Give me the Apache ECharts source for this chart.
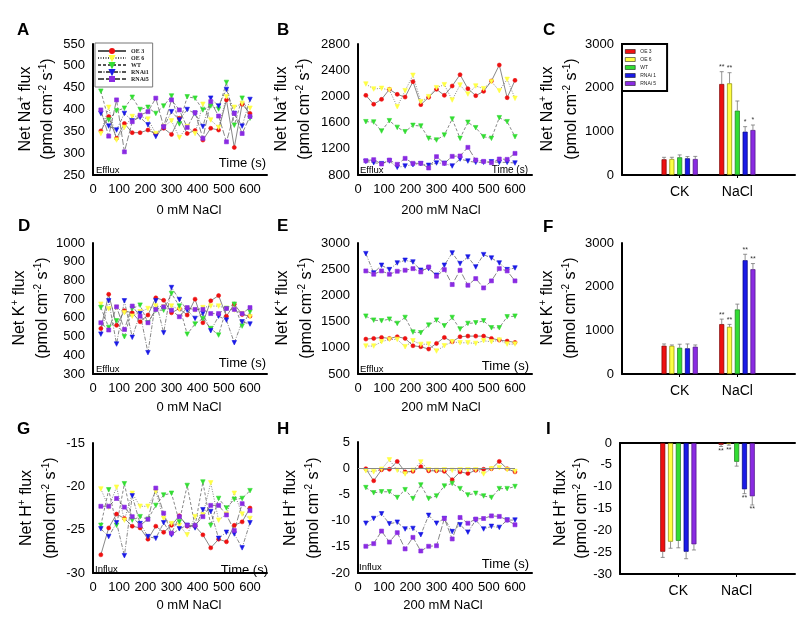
<!DOCTYPE html>
<html><head><meta charset="utf-8">
<script src="https://cdn.jsdelivr.net/npm/echarts@6/dist/echarts.min.js"></script>
<style>html,body{margin:0;padding:0;background:#fff}#c{width:809px;height:624px}</style>
</head><body><div id="c"></div>
<script>
// ---------- DATA ----------
const timePoints = [30,60,90,120,150,180,210,240,270,300,330,360,390,420,450,480,510,540,570,600];
const lineNames = ['OE 3','OE 6','WT','RNAi1','RNAi5'];
const barNames = ['OE 3','OE 6','WT','RNAi 1','RNAi 5'];
const barCategories = ['', 'CK', 'NaCl', ''];

// A: Net Na+ flux, 0 mM NaCl
const a_OE3 = [351,384,334,368,347,347,353,344,357,343,380,345,352,330,357,353,422,313,412,391];
const a_OE6 = [345,405,330,359,384,385,378,345,361,374,336,361,345,412,376,359,429,405,414,403];
const a_WT = [442,376,397,403,428,400,405,391,408,431,367,429,426,399,408,401,462,364,426,380];
const a_RNAi1 = [391,362,353,391,374,382,365,338,359,395,376,400,391,361,426,408,446,391,362,423];
const a_RNAi5 = [399,339,422,303,372,387,395,426,361,422,399,359,393,334,418,385,326,391,345,384];
// B: Net Na+ flux, 200 mM NaCl
const b_OE3 = [2016,1880,1955,2108,2031,1990,2225,1874,1986,2108,2016,2159,2332,2118,2011,2077,2235,2479,1980,2245];
const b_OE6 = [2189,2113,2123,2098,1843,2087,2322,1919,1996,2133,2179,1945,2174,2036,2159,2118,2225,2087,2260,1970];
const b_WT = [1614,1609,1471,1629,1527,1461,1558,1548,1360,1334,1410,1655,1360,1604,1522,1385,1360,1675,1614,1385];
const b_RNAi1 = [1008,988,973,1013,917,937,957,973,947,983,978,937,1044,1013,993,993,1003,993,993,983];
const b_RNAi5 = [1018,1034,968,1029,963,1054,978,978,907,1080,978,1085,1090,1222,1029,1008,988,1044,1039,1130];
// C: mean Na+ flux bars
const c_CK_mean = [360,366,405,382,366];
const c_CK_err = [45,40,55,40,60];
const c_NaCl_mean = [2084,2099,1473,992,1030];
const c_NaCl_err = [282,244,222,115,115];
const c_NaCl_sig = ['**','**','','*','*'];
// D: Net K+ flux, 0 mM NaCl
const d_OE3 = [543,726,560,638,627,579,615,707,694,627,650,615,700,574,691,719,609,673,618,609];
const d_OE6 = [673,648,655,627,609,632,650,663,659,663,645,650,641,655,663,663,650,641,623,606];
const d_WT = [655,549,584,499,650,668,574,641,641,730,663,513,567,597,543,508,650,673,556,632];
const d_RNAi1 = [513,691,460,691,496,623,414,691,520,762,698,641,597,623,531,609,588,467,579,567];
const d_RNAi5 = [574,535,659,538,663,609,574,645,659,641,606,655,645,645,623,623,650,645,623,655];
// E: Net K+ flux, 200 mM NaCl
const e_OE3 = [1166,1179,1198,1179,1211,1179,1039,1020,976,1084,1198,1115,1211,1223,1223,1223,1179,1147,1128,1103];
const e_OE6 = [1033,1033,1115,1160,1160,1020,1135,1065,1071,938,1039,1115,1096,1096,1084,1135,1115,1147,1071,1071];
const e_WT = [1604,1528,1515,1547,1465,1579,1300,1287,1433,1528,1420,1579,1357,1465,1477,1515,1382,1382,1591,1604];
const e_RNAi1 = [2797,2429,2575,2492,2619,2670,2638,2480,2511,2385,2575,2810,2607,2734,2543,2778,2714,2619,2492,2524];
const e_RNAi5 = [2467,2404,2467,2404,2461,2480,2511,2448,2543,2366,2492,2207,2480,2194,2321,2143,2277,2511,2467,2277];
// F: mean K+ flux bars
const f_CK_mean = [648,645,602,588,625];
const f_CK_err = [40,20,80,100,40];
const f_NaCl_mean = [1142,1081,1478,2605,2399];
const f_NaCl_err = [115,55,122,137,130];
const f_NaCl_sig = ['**','**','','**','**'];
// G: Net H+ flux, 0 mM NaCl
const g_OE3 = [-27.9,-24.8,-23.2,-23.7,-24.6,-24.8,-26.1,-24.6,-25.3,-24.5,-23.4,-24.6,-24.6,-25.6,-27.1,-26.1,-26.4,-24.5,-24.1,-22.5];
const g_OE6 = [-20.3,-22.4,-20.1,-23.9,-20.8,-22.3,-22.3,-20.6,-23.7,-24.3,-24.5,-25.6,-23.5,-23.3,-19.6,-23.9,-23.2,-20.8,-23.2,-23.7];
const g_WT = [-24.5,-20.4,-24.5,-19.7,-23.9,-23.5,-23.8,-22.2,-21.0,-20.8,-24.1,-19.9,-24.6,-19.5,-24.5,-21.4,-22.5,-21.5,-21.4,-20.5];
const g_RNAi1 = [-24.9,-25.8,-24.2,-28.0,-21.1,-24.3,-25.8,-26.0,-24.2,-25.6,-24.9,-24.5,-24.8,-22.7,-22.9,-26.0,-25.3,-25.5,-27.1,-24.2];
const g_RNAi5 = [-22.3,-22.3,-21.4,-22.4,-23.5,-24.5,-23.8,-20.2,-23.1,-25.4,-23.5,-24.5,-24.5,-23.5,-22.2,-22.2,-23.3,-25.1,-22.0,-22.8];
// H: Net H+ flux, 200 mM NaCl
const h_OE3 = [-0.1,-2.4,-0.3,-0.2,1.3,-0.7,-0.6,0.3,-0.5,-0.5,-0.6,-2.2,-0.7,-1.0,-0.4,-0.2,-0.1,1.3,-0.1,-0.7];
const h_OE6 = [-0.5,-0.7,-0.2,1.6,-0.4,-1.1,-0.4,1.2,-0.3,-0.4,-0.3,-0.4,-0.3,-0.3,-0.3,-1.1,-0.1,0.1,-0.3,-0.6];
const h_WT = [-3.7,-4.7,-4.5,-4.5,-5.6,-4.1,-5.8,-3.2,-5.8,-5.3,-3.4,-2.9,-3.9,-5.1,-4.8,-5.3,-5.6,-3.9,-3.9,-3.5];
const h_RNAi1 = [-10.5,-9.6,-8.7,-10.6,-10.3,-11.6,-11.5,-12.7,-9.0,-10.5,-9.6,-12.1,-10.8,-12.2,-9.9,-11.6,-11.1,-11.3,-9.9,-9.9];
const h_RNAi5 = [-14.9,-14.4,-12.0,-14.1,-12.3,-15.4,-13.2,-15.8,-14.9,-14.8,-9.6,-13.5,-9.4,-10.5,-9.7,-9.6,-9.1,-9.2,-9.9,-10.8];
const h_zeroLine = [0, 600];
// I: mean H+ flux bars
const i_CK_mean = [-24.9,-22.6,-22.4,-24.9,-23.2];
const i_CK_err = [1.3,1.5,1.6,1.6,1.3];
const i_NaCl_mean = [-0.4,-0.2,-4.3,-10.6,-12.2];
const i_NaCl_err = [0.4,0.3,1.0,1.0,2.0];
const i_NaCl_sig = ['**','**','','**','**'];

// y-axis ticks per panel [min, max, interval]
const yTicksA = [250,550,50], yTicksB = [800,2800,400], yTicksC = [0,3000,1000];
const yTicksD = [300,1000,100], yTicksE = [500,3000,500], yTicksF = [0,3000,1000];
const yTicksG = [-30,-15,5], yTicksH = [-20,5,5], yTicksI = [-30,0,5];
const xTimeTicks = [0,665,100];

// ---------- STYLE / LAYOUT ----------
const FONT = 'Liberation Sans';
const colors = ['#ee1111','#ffff44','#33dd33','#1a1ae6','#8a2be2'];
const barBorders = ['#7a0000','#8a8a00','#1a7a1a','#00007a','#4a1280'];
const symbols = ['circle','triangle','triangle','triangle','rect'];
const symRot = [0,180,180,180,0];
const symSize = [4,4.5,4.5,4.5,4];
const dashes = ['solid',[1,1.5],[3,2],[4,1.5,1,1.5],[6,2]];
const BAR_W = 5, BAR_GAP = 0.56, PITCH = BAR_W*(1+BAR_GAP);

const grids = [
  {left:93, top:44, width:174, height:131},
  {left:358, top:44, width:174, height:131},
  {left:622, top:44, width:173, height:131},
  {left:93, top:243, width:174, height:131},
  {left:358, top:243, width:174, height:131},
  {left:622, top:243, width:173, height:131},
  {left:93, top:443, width:174, height:130},
  {left:358, top:442, width:174, height:131},
  {left:620, top:443, width:175, height:131}
];
const axisLine = {show:true, onZero:false, lineStyle:{color:'#000', width:2}};
const lbl = {color:'#000', fontSize:13, fontFamily:FONT};

const yT = [yTicksA,yTicksB,yTicksC,yTicksD,yTicksE,yTicksF,yTicksG,yTicksH,yTicksI];
const yAxes = yT.map((t,i)=>({type:'value', gridIndex:i, min:t[0], max:t[1], interval:t[2],
  axisLine:axisLine, axisTick:{show:false}, splitLine:{show:false},
  axisLabel:Object.assign({margin:8, formatter:v=>String(v)}, lbl)}));

const barPanels = [2,5,8];
const xAxes = grids.map((g,i)=>{
  if (barPanels.includes(i)) {
    return {type:'category', gridIndex:i, data:barCategories, boundaryGap:false,
      axisLine:axisLine, splitLine:{show:false},
      axisTick:{show:true, length:3, interval:(idx,v)=>v!=='', lineStyle:{color:'#000', width:1}},
      axisLabel:Object.assign({margin:10, interval:0}, lbl, {fontSize:14})};
  }
  return {type:'value', gridIndex:i, min:xTimeTicks[0], max:xTimeTicks[1], interval:xTimeTicks[2],
    axisLine:axisLine, axisTick:{show:false}, splitLine:{show:false},
    axisLabel:Object.assign({margin:8, showMaxLabel:false, formatter:v=>v<=600?String(v):''}, lbl)};
});
// extra top line for panel I
xAxes.push({type:'category', gridIndex:8, position:'top', data:barCategories, boundaryGap:false,
  axisLine:{show:true, onZero:false, lineStyle:{color:'#000', width:2}}, axisTick:{show:false}, axisLabel:{show:false}, splitLine:{show:false}});

const series = [];
const lineSets = [
  {g:0, d:[a_OE3,a_OE6,a_WT,a_RNAi1,a_RNAi5]},
  {g:1, d:[b_OE3,b_OE6,b_WT,b_RNAi1,b_RNAi5]},
  {g:3, d:[d_OE3,d_OE6,d_WT,d_RNAi1,d_RNAi5]},
  {g:4, d:[e_OE3,e_OE6,e_WT,e_RNAi1,e_RNAi5]},
  {g:6, d:[g_OE3,g_OE6,g_WT,g_RNAi1,g_RNAi5]},
  {g:7, d:[h_OE3,h_OE6,h_WT,h_RNAi1,h_RNAi5]}
];
lineSets.forEach(set=>{
  set.d.forEach((vals,k)=>{
    const s = {type:'line', name:lineNames[k], xAxisIndex:set.g, yAxisIndex:set.g,
      data: timePoints.map((t,i)=>[t, vals[i]]),
      symbol:symbols[k], symbolRotate:symRot[k], symbolSize:symSize[k], showAllSymbol:true,
      itemStyle:{color:colors[k], borderColor:colors[k], borderWidth:0.6, opacity:1},
      lineStyle:{color:'#555', width:0.7, type:dashes[k]},
      z:3};
    if (set.g===7 && k===0) {
      s.markLine = {silent:true, symbol:['none','none'], label:{show:false}, animation:false,
        lineStyle:{color:'#888', width:1, type:'solid'},
        data:[[{coord:[h_zeroLine[0],0]},{coord:[h_zeroLine[1],0]}]]};
    }
    series.push(s);
  });
});

const barSets = [
  {g:2, ck:c_CK_mean, ce:c_CK_err, na:c_NaCl_mean, ne:c_NaCl_err, sig:c_NaCl_sig},
  {g:5, ck:f_CK_mean, ce:f_CK_err, na:f_NaCl_mean, ne:f_NaCl_err, sig:f_NaCl_sig},
  {g:8, ck:i_CK_mean, ce:i_CK_err, na:i_NaCl_mean, ne:i_NaCl_err, sig:i_NaCl_sig}
];
barSets.forEach(set=>{
  for (let k=0;k<5;k++) {
    series.push({type:'bar', name:barNames[k], xAxisIndex:set.g, yAxisIndex:set.g,
      data:[[barCategories[1], set.ck[k]], [barCategories[2], set.na[k]]],
      barWidth:BAR_W, barGap:(BAR_GAP*100)+'%',
      itemStyle:{color:colors[k], borderColor:barBorders[k], borderWidth:0.7}, z:2});
  }
});
barSets.forEach(set=>{
  for (let k=0;k<5;k++) {
    const sigs = ['', set.sig[k]];
    series.push({type:'custom', xAxisIndex:set.g, yAxisIndex:set.g, z:4, clip:false, silent:true,
      data:[[barCategories[1], set.ck[k], set.ce[k]], [barCategories[2], set.na[k], set.ne[k]]],
      encode:{x:0, y:1},
      renderItem:(params, api)=>{
        const xi = api.value(0), m = api.value(1), e = api.value(2);
        const dir = m < 0 ? -1 : 1;
        const p0 = api.coord([xi, m]);
        const p1 = api.coord([xi, m + dir*e]);
        const x = p0[0] + (k-2)*PITCH;
        const st = {stroke:'#777', lineWidth:0.8};
        const ch = [
          {type:'line', shape:{x1:x, y1:p0[1], x2:x, y2:p1[1]}, style:st},
          {type:'line', shape:{x1:x-2, y1:p1[1], x2:x+2, y2:p1[1]}, style:st}
        ];
        const s = sigs[params.dataIndex];
        if (s) ch.push({type:'text', x:x, y:p1[1]-dir*4.5,
          style:{text:s, fontSize:7, fontFamily:FONT, fill:'#333', align:'center', verticalAlign:'middle'}});
        return {type:'group', children:ch};
      }});
  }
});

// ---------- TEXT ----------
const RICH = {
  t:{fontSize:16, fontFamily:FONT, lineHeight:20, fill:'#000'},
  s:{fontSize:10, fontFamily:FONT, verticalAlign:'top', fill:'#000'}
};
function yTitle(x1, x2, cy, ion) {
  return [
    {type:'text', x:x1, y:cy, rotation:Math.PI/2,
      style:{text:'{t|Net '+ion+'}{s|+}{t| flux}', rich:RICH, align:'center', verticalAlign:'middle'}},
    {type:'text', x:x2, y:cy, rotation:Math.PI/2,
      style:{text:'{t|(pmol cm}{s|-2}{t| s}{s|-1}{t|)}', rich:RICH, align:'center', verticalAlign:'middle'}}
  ];
}
function txt(x, y, s, size, align, weight) {
  return {type:'text', x:x, y:y, style:{text:s, font:(weight||'normal')+' '+size+'px "'+FONT+'"',
    fill:'#000', align:align||'left', verticalAlign:'middle'}};
}
const graphics = [].concat(
  yTitle(26,48,109,'Na'), yTitle(282,305,109,'Na'), yTitle(548,572,109,'Na'),
  yTitle(20,43,308,'K'), yTitle(283,307,308,'K'), yTitle(548,571,308,'K'),
  yTitle(27,51,508,'H'), yTitle(291,314,508,'H'), yTitle(561,582,508,'H'),
  [
    txt(17,30,'A',17,'left','bold'), txt(277,30,'B',17,'left','bold'), txt(543,30,'C',17,'left','bold'),
    txt(18,226,'D',17,'left','bold'), txt(277,226,'E',17,'left','bold'), txt(543,227,'F',17,'left','bold'),
    txt(17,429,'G',17,'left','bold'), txt(277,429,'H',17,'left','bold'), txt(546,429,'I',17,'left','bold'),
    txt(189,210,'0 mM NaCl',13,'center'), txt(441,210,'200 mM NaCl',13,'center'),
    txt(189,407,'0 mM NaCl',13,'center'), txt(441,407,'200 mM NaCl',13,'center'),
    txt(189,605,'0 mM NaCl',13,'center'), txt(443,605,'200 mM NaCl',13,'center'),
    txt(96,170,'Efflux',9.5), txt(360,170,'Efflux',9.5), txt(96,369,'Efflux',9.5),
    txt(360,369,'Efflux',9.5), txt(95,569,'Influx',9.5), txt(359,567,'Influx',9.5),
    txt(266,163,'Time (s)',13,'right'), txt(528,170,'Time (s)',10,'right'),
    txt(266,363,'Time (s)',13,'right'), txt(529,366,'Time (s)',13,'right'),
    txt(268,570,'Time (s)',13,'right'), txt(529,564,'Time (s)',13,'right')
  ]
);

const option = {
  backgroundColor:'#fff',
  animation:false,
  grid:grids,
  xAxis:xAxes,
  yAxis:yAxes,
  legend:[
    {data:lineNames, orient:'vertical', left:95, top:43, itemWidth:28, itemHeight:5, itemGap:1,
      padding:[5,4,5,2], borderColor:'#777', borderWidth:1, selectedMode:false, backgroundColor:'#fff',
      textStyle:{fontSize:6, fontFamily:'Liberation Serif', fontWeight:'bold', color:'#222', lineHeight:5}},
    {data:barNames, orient:'vertical', left:622, top:44, icon:'rect', itemWidth:10, itemHeight:4, itemGap:3,
      itemTextGap:3, padding:[5,11,5,3], borderColor:'#000', borderWidth:2, selectedMode:false, backgroundColor:'#fff',
      itemStyle:{borderColor:'#000', borderWidth:0.5},
      textStyle:{fontSize:5, fontFamily:FONT, color:'#222', lineHeight:4}}
  ],
  series:series,
  graphic:graphics
};
const chart = echarts.init(document.getElementById('c'), null, {renderer:'canvas'});
chart.setOption(option);
</script></body></html>
